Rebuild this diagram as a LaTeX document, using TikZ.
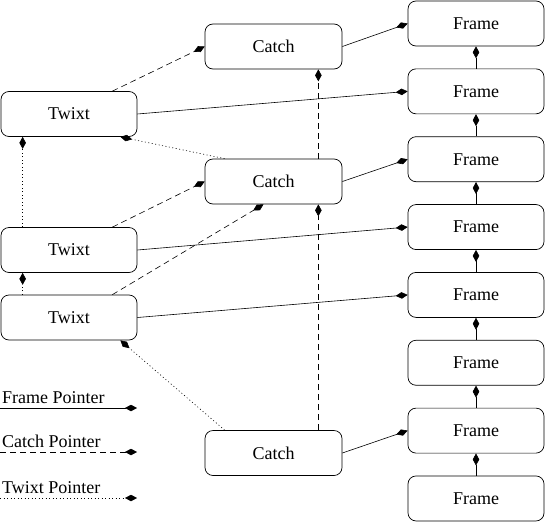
\documentclass[tikz,border=0pt]{standalone}
\usepackage{fontspec}
\setmainfont{Liberation Serif}
\usetikzlibrary{arrows.meta}
\begin{document}
\begin{tikzpicture}[x=1pt,y=-1pt,
  box/.style={draw, rounded corners=8pt, minimum width=136pt, minimum height=45pt, inner sep=0pt, font=\fontsize{18}{21}\selectfont, line width=0.7pt},
  ptr/.style={-{Diamond[length=12pt,width=6.5pt]}, line width=0.6pt},
  catchptr/.style={ptr, dash pattern=on 6pt off 4pt},
  twixtptr/.style={ptr, dash pattern=on 1pt off 2.5pt},
  lbl/.style={anchor=base west, inner sep=0pt, font=\fontsize{18}{21}\selectfont}
]
\useasboundingbox (0,0) rectangle (545,522);
% frames
\node[box] (f1) at (476,23.5) {Frame};
\node[box] (f2) at (476,91.35) {Frame};
\node[box] (f3) at (476,159.2) {Frame};
\node[box] (f4) at (476,227.05) {Frame};
\node[box] (f5) at (476,294.9) {Frame};
\node[box] (f6) at (476,362.75) {Frame};
\node[box] (f7) at (476,430.6) {Frame};
\node[box] (f8) at (476,498.45) {Frame};
% catches
\node[box, minimum width=137pt] (c1) at (273.5,46.5) {Catch};
\node[box, minimum width=137pt] (c2) at (273.5,181.5) {Catch};
\node[box, minimum width=137pt] (c3) at (273.5,453) {Catch};
% twixts
\node[box] (t1) at (69,114) {Twixt};
\node[box] (t2) at (69,250) {Twixt};
\node[box] (t3) at (69,317.5) {Twixt};
% frame chain
\foreach \a/\b in {f2/f1,f3/f2,f4/f3,f5/f4,f6/f5,f7/f6,f8/f7}
  \draw[ptr] (\a.north) -- (\b.south);
% frame pointers
\draw[ptr] (c1.east) -- (f1.west);
\draw[ptr] (t1.east) -- (f2.west);
\draw[ptr] (c2.east) -- (f3.west);
\draw[ptr] (t2.east) -- (f4.west);
\draw[ptr] (t3.east) -- (f5.west);
\draw[ptr] (c3.east) -- (f7.west);
% catch pointers
\draw[catchptr] ([xshift=-25pt]t1.north east) -- (c1.west);
\draw[catchptr] ([xshift=-25pt]t2.north east) -- (c2.west);
\draw[catchptr] ([xshift=-25pt]t3.north east) -- ([xshift=-10pt]c2.south);
\draw[catchptr] ([xshift=-24pt]c2.north east) -- ([xshift=-24pt]c1.south east);
\draw[catchptr] ([xshift=-24pt]c3.north east) -- ([xshift=-24pt]c2.south east);
% twixt pointers
\draw[twixtptr] ([xshift=20pt]c2.north west) -- ([xshift=-17pt]t1.south east);
\draw[twixtptr] ([xshift=22pt]t2.north west) -- ([xshift=22pt]t1.south west);
\draw[twixtptr] ([xshift=22pt]t3.north west) -- ([xshift=22pt]t2.south west);
\draw[twixtptr] ([xshift=20pt]c3.north west) -- ([xshift=-17pt]t3.south east);
% legend
\node[lbl] (lf) at (2,403) {Frame Pointer};
\coordinate (lf0) at (0,408);
\coordinate (lf1) at (137,408);
\draw[ptr] (lf0) -- (lf1);
\node[lbl] (lc) at (2,447) {Catch Pointer};
\coordinate (lc0) at (0,452);
\coordinate (lc1) at (137,452);
\draw[catchptr] (lc0) -- (lc1);
\node[lbl] (lt) at (2,493) {Twixt Pointer};
\coordinate (lt0) at (0,498);
\coordinate (lt1) at (137,498);
\draw[twixtptr] (lt0) -- (lt1);
\end{tikzpicture}
\end{document}
